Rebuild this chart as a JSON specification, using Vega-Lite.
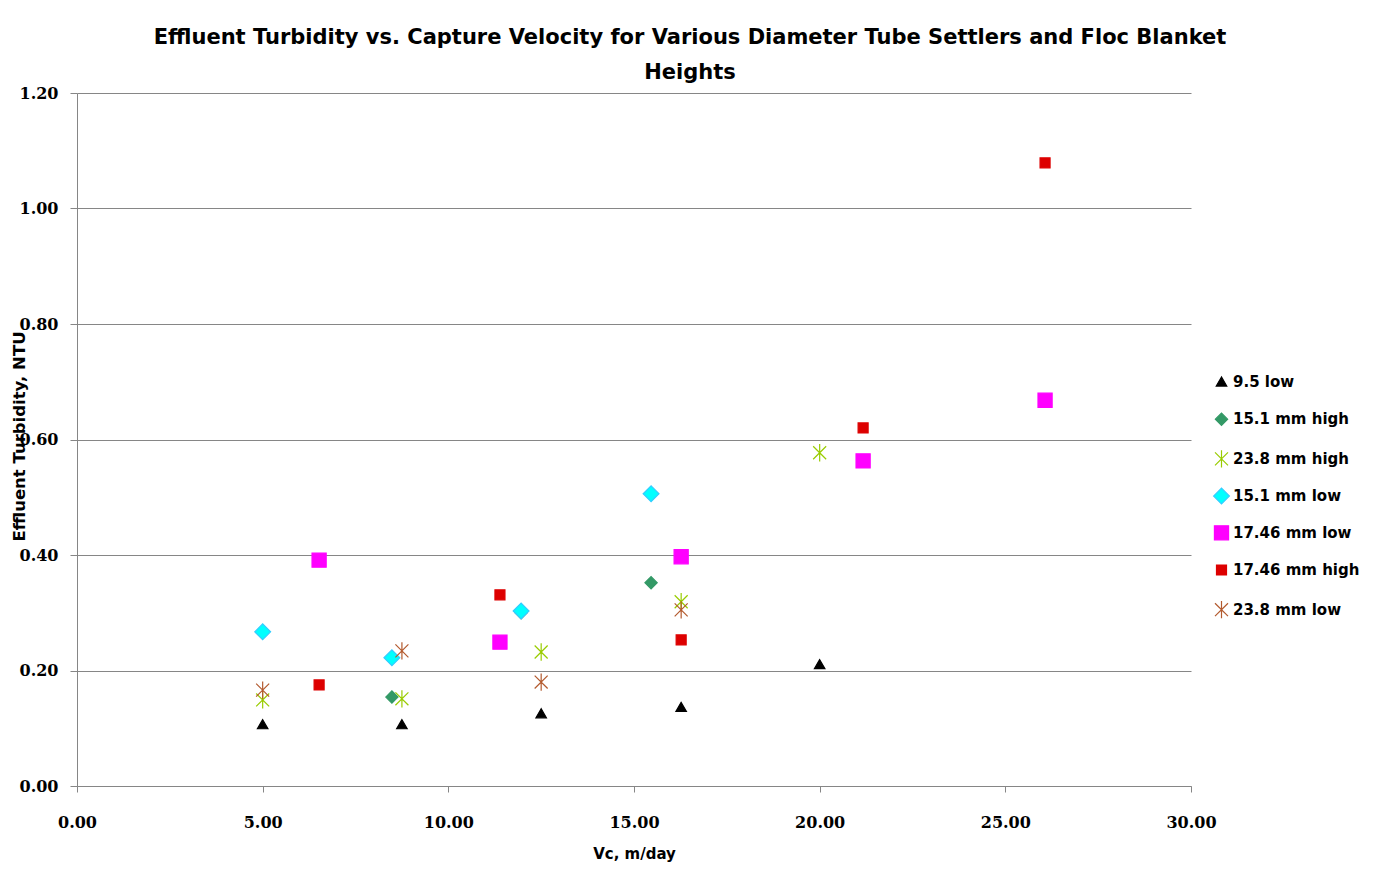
{
  "$schema": "https://vega.github.io/schema/vega-lite/v6.json",
  "autosize": {"type": "none"},
  "padding": {"left": 77, "top": 93, "right": 189, "bottom": 109},
  "width": 1114,
  "height": 693,
  "background": "white",
  "title": {
    "text": ["Effluent Turbidity vs. Capture Velocity for Various Diameter Tube Settlers and Floc Blanket", "Heights"],
    "font": "DejaVu Sans",
    "fontSize": 21,
    "fontWeight": "bold",
    "color": "black",
    "lineHeight": 35,
    "anchor": "middle",
    "dx": 56,
    "offset": 2
  },
  "data": {
    "values": [
      {"series": "9.5 low", "vc": 5.0, "ntu": 0.107},
      {"series": "9.5 low", "vc": 8.75, "ntu": 0.107},
      {"series": "9.5 low", "vc": 12.5, "ntu": 0.126},
      {"series": "9.5 low", "vc": 16.27, "ntu": 0.137},
      {"series": "9.5 low", "vc": 20.0, "ntu": 0.211},
      {"series": "15.1 mm high", "vc": 8.48, "ntu": 0.154},
      {"series": "15.1 mm high", "vc": 11.96, "ntu": 0.3},
      {"series": "15.1 mm high", "vc": 15.46, "ntu": 0.352},
      {"series": "23.8 mm high", "vc": 5.0, "ntu": 0.149},
      {"series": "23.8 mm high", "vc": 8.75, "ntu": 0.151},
      {"series": "23.8 mm high", "vc": 12.5, "ntu": 0.232},
      {"series": "23.8 mm high", "vc": 16.27, "ntu": 0.319},
      {"series": "23.8 mm high", "vc": 20.0, "ntu": 0.577},
      {"series": "15.1 mm low", "vc": 5.0, "ntu": 0.267},
      {"series": "15.1 mm low", "vc": 8.48, "ntu": 0.222},
      {"series": "15.1 mm low", "vc": 11.96, "ntu": 0.303},
      {"series": "15.1 mm low", "vc": 15.46, "ntu": 0.506},
      {"series": "17.46 mm low", "vc": 6.52, "ntu": 0.391},
      {"series": "17.46 mm low", "vc": 11.39, "ntu": 0.249},
      {"series": "17.46 mm low", "vc": 16.27, "ntu": 0.397},
      {"series": "17.46 mm low", "vc": 21.17, "ntu": 0.563},
      {"series": "17.46 mm low", "vc": 26.07, "ntu": 0.668},
      {"series": "17.46 mm high", "vc": 6.52, "ntu": 0.175},
      {"series": "17.46 mm high", "vc": 11.39, "ntu": 0.331},
      {"series": "17.46 mm high", "vc": 16.27, "ntu": 0.253},
      {"series": "17.46 mm high", "vc": 21.17, "ntu": 0.62},
      {"series": "17.46 mm high", "vc": 26.07, "ntu": 1.079},
      {"series": "23.8 mm low", "vc": 5.0, "ntu": 0.166},
      {"series": "23.8 mm low", "vc": 8.75, "ntu": 0.234},
      {"series": "23.8 mm low", "vc": 12.5, "ntu": 0.18},
      {"series": "23.8 mm low", "vc": 16.27, "ntu": 0.305}
    ]
  },
  "mark": {"type": "point", "filled": true, "opacity": 1, "strokeWidth": 1.2},
  "encoding": {
    "x": {
      "field": "vc", "type": "quantitative",
      "scale": {"domain": [0, 30], "nice": false, "zero": true},
      "axis": {
        "title": "Vc, m/day", "values": [0, 5, 10, 15, 20, 25, 30], "format": ".2f",
        "grid": false, "domainColor": "#868686", "tickColor": "#868686", "tickSize": 6,
        "labelFlush": false,
        "labelFont": "DejaVu Serif", "labelFontSize": 16, "labelFontWeight": "bold", "labelColor": "black", "labelPadding": 22,
        "titleFont": "DejaVu Sans", "titleFontSize": 15, "titleFontWeight": "bold", "titleColor": "black", "titlePadding": 16
      }
    },
    "y": {
      "field": "ntu", "type": "quantitative",
      "scale": {"domain": [0, 1.2], "nice": false},
      "axis": {
        "title": "Effluent Turbidity, NTU", "values": [0, 0.2, 0.4, 0.6, 0.8, 1.0, 1.2], "format": ".2f",
        "grid": true, "gridColor": "#868686", "gridWidth": 1,
        "domainColor": "#868686", "tickColor": "#868686", "tickSize": 7,
        "labelFont": "DejaVu Serif", "labelFontSize": 16, "labelFontWeight": "bold", "labelColor": "black", "labelPadding": 12,
        "titleFont": "DejaVu Sans", "titleFontSize": 16.5, "titleFontWeight": "bold", "titleColor": "black",
        "titleX": -50, "titleY": 343
      }
    },
    "color": {
      "field": "series", "type": "nominal", "title": null,
      "scale": {
        "domain": ["9.5 low", "15.1 mm high", "23.8 mm high", "15.1 mm low", "17.46 mm low", "17.46 mm high", "23.8 mm low"],
        "range": ["#000000", "#339966", "#99CC00", "#00FFFF", "#FF00FF", "#DD0000", "#993300"]
      },
      "legend": {
        "gridAlign": "all",
        "encode": {"symbols": {"update": {"size": {"value": 120}}}}
      }
    },
    "stroke": {
      "field": "series", "type": "nominal", "title": null,
      "scale": {
        "domain": ["9.5 low", "15.1 mm high", "23.8 mm high", "15.1 mm low", "17.46 mm low", "17.46 mm high", "23.8 mm low"],
        "range": ["#000000", "#339966", "#99CC00", "#33CCFF", "#FF00FF", "#DD0000", "#B35A2E"]
      }
    },
    "shape": {
      "field": "series", "type": "nominal", "title": null,
      "scale": {
        "domain": ["9.5 low", "15.1 mm high", "23.8 mm high", "15.1 mm low", "17.46 mm low", "17.46 mm high", "23.8 mm low"],
        "range": ["triangle-up", "diamond", "M-0.75,-0.75L0.75,0.75M-0.75,0.75L0.75,-0.75M0,-1L0,1", "diamond", "square", "square", "M-0.75,-0.75L0.75,0.75M-0.75,0.75L0.75,-0.75M0,-1L0,1"]
      }
    },
    "size": {
      "field": "series", "type": "nominal", "title": null,
      "scale": {
        "type": "ordinal",
        "domain": ["9.5 low", "15.1 mm high", "23.8 mm high", "15.1 mm low", "17.46 mm low", "17.46 mm high", "23.8 mm low"],
        "range": [110, 150, 300, 250, 200, 100, 300]
      }
    }
  },
  "config": {
    "view": {"stroke": null},
    "legend": {
      "orient": "none",
      "legendX": 1135,
      "legendY": 281,
      "labelFont": "DejaVu Sans",
      "labelFontSize": 15,
      "labelFontWeight": "bold",
      "labelColor": "black",
      "rowPadding": 14.7,
      "symbolStrokeWidth": 1.2,
      "labelOffset": 2,
      "labelLimit": 300
    }
  }
}
